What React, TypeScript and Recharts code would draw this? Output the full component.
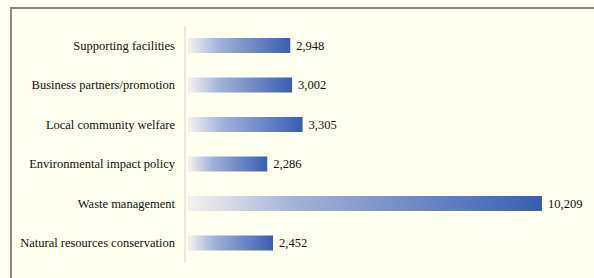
import React from "react";
import { BarChart, Bar, XAxis, YAxis, LabelList } from "recharts";

const categories = [
  "Supporting facilities",
  "Business partners/promotion",
  "Local community welfare",
  "Environmental impact policy",
  "Waste management",
  "Natural resources conservation",
];
const values = [2948, 3002, 3305, 2286, 10209, 2452];

const data = categories.map((name, i) => ({ name, value: values[i] }));

const fmt = (v: number) => v.toLocaleString("en-US");
const FONT = "'Liberation Serif', 'Times New Roman', 'DejaVu Serif', serif";

const CatTick = (props: any) => {
  const { x, y, payload } = props;
  return (
    <text
      x={x}
      y={y}
      dy={4}
      textAnchor="end"
      fill="#111"
      fontSize={12.5}
      fontFamily={FONT}
      style={{ fontFamily: FONT }}
    >
      {payload.value}
    </text>
  );
};

const ValueLabel = (props: any) => {
  const { x, y, width, height, value } = props;
  return (
    <text
      x={Number(x) + Number(width) + 6}
      y={Number(y) + Number(height) / 2}
      dy={4}
      textAnchor="start"
      fill="#111"
      fontSize={12.5}
      fontFamily={FONT}
      style={{ fontFamily: FONT }}
    >
      {fmt(Number(value))}
    </text>
  );
};

export default function App() {
  return (
    <div
      style={{
        position: "absolute",
        left: 0,
        top: 0,
        width: 594,
        height: 278,
        background: "#FFFFF0",
        overflow: "hidden",
      }}
    >
      <div
        style={{
          position: "absolute",
          left: 10,
          top: 7,
          width: 590,
          height: 280,
          borderTop: "2px solid #8a8a82",
          borderLeft: "2px solid #8a8a82",
        }}
      />
      <div style={{ position: "absolute", left: 0, top: 0 }}>
        <BarChart
          width={594}
          height={278}
          data={data}
          layout="vertical"
          margin={{ top: 26, right: 52, bottom: 15, left: 0 }}
        >
          <defs>
            <linearGradient id="barGrad" x1="0" y1="0" x2="1" y2="0">
              <stop offset="0%" stopColor="#F6F2EE" />
              <stop offset="30%" stopColor="#A4B2D8" />
              <stop offset="100%" stopColor="#385EB2" />
            </linearGradient>
          </defs>
          <XAxis type="number" hide domain={[0, "dataMax"]} padding={{ left: 3, right: 0 }} />
          <YAxis
            type="category"
            dataKey="name"
            width={185}
            tickLine={false}
            tickSize={0}
            tickMargin={10}
            axisLine={{ stroke: "#d8d4c8", strokeWidth: 1 }}
            tick={<CatTick />}
            interval={0}
          />
          <Bar dataKey="value" fill="url(#barGrad)" barSize={15} isAnimationActive={false}>
            <LabelList dataKey="value" content={<ValueLabel />} />
          </Bar>
        </BarChart>
      </div>
    </div>
  );
}
